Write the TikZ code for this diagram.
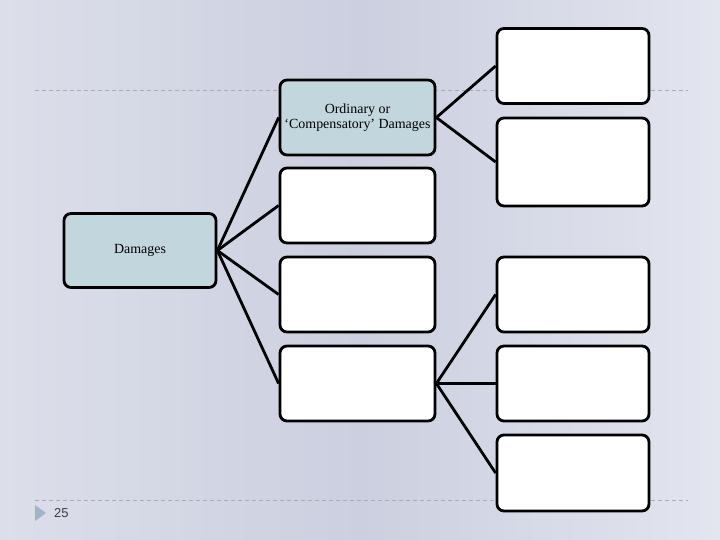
\documentclass[tikz,border=0pt]{standalone}
\usepackage{fontspec}
\setmainfont{Liberation Serif}
\newfontfamily\numfont{Liberation Sans}
\begin{document}
\begin{tikzpicture}[x=1bp,y=-1bp,
  box/.style={draw=black,line width=2.8bp,rounded corners=7bp,fill=white,
    minimum width=152bp,minimum height=74bp,inner sep=0pt,align=center,
    font=\fontsize{14}{15}\selectfont},
  tealbox/.style={box,fill=boxfill},
  link/.style={draw=black,line width=2.8bp},
  guide/.style={draw=guidegrey,line width=0.8bp,dash pattern=on 4bp off 3bp}]
\definecolor{bgleft}{HTML}{DCDFEA}
\definecolor{bgmid}{HTML}{CBCFDF}
\definecolor{bgright}{HTML}{E3E5EF}
\definecolor{boxfill}{HTML}{C2D6DD}
\definecolor{guidegrey}{HTML}{A9ABB7}
\definecolor{tri}{HTML}{9FB3C9}
\definecolor{numgrey}{HTML}{3A3C4A}
\useasboundingbox (0,0) rectangle (720,540);
\shade[left color=bgleft,right color=bgright,middle color=bgmid] (0,0) rectangle (720,540);
% guide lines
\coordinate (g1a) at (35,90); \coordinate (g1b) at (688,90);
\coordinate (g2a) at (35,500); \coordinate (g2b) at (688,500);
\draw[guide] (g1a) -- (g1b);
\draw[guide] (g2a) -- (g2b);
% slide number
\fill[tri] (35,505) -- (46,513) -- (35,521) -- cycle;
\node[anchor=west,text=numgrey,font=\numfont\fontsize{13}{15}\selectfont,inner sep=0pt] (num) at (54,513) {25};
% boxes
\node[tealbox,minimum width=152bp,minimum height=74bp] (dam) at (140,250.5) {Damages};
\node[tealbox,minimum width=155bp,minimum height=75bp] (ord) at (357.5,117.5) {Ordinary or\\‘Compensatory’ Damages};
\node[box,minimum width=155bp,minimum height=75bp] (b1) at (357.5,205.5) {};
\node[box,minimum width=155bp,minimum height=75bp] (b2) at (357.5,294.5) {};
\node[box,minimum width=155bp,minimum height=75bp] (b3) at (357.5,383.5) {};
\node[box,minimum width=152bp,minimum height=75bp] (r1) at (573,66) {};
\node[box,minimum width=152bp,minimum height=88bp] (r2) at (573,162) {};
\node[box,minimum width=152bp,minimum height=75bp] (r3) at (573,294.5) {};
\node[box,minimum width=152bp,minimum height=75bp] (r4) at (573,383.5) {};
\node[box,minimum width=152bp,minimum height=76bp] (r5) at (573,473) {};
% connectors
\draw[link] (dam.east) -- (ord.west);
\draw[link] (dam.east) -- (b1.west);
\draw[link] (dam.east) -- (b2.west);
\draw[link] (dam.east) -- (b3.west);
\draw[link] (ord.east) -- (r1.west);
\draw[link] (ord.east) -- (r2.west);
\draw[link] (b3.east) -- (r3.west);
\draw[link] (b3.east) -- (r4.west);
\draw[link] (b3.east) -- (r5.west);
\end{tikzpicture}
\end{document}
